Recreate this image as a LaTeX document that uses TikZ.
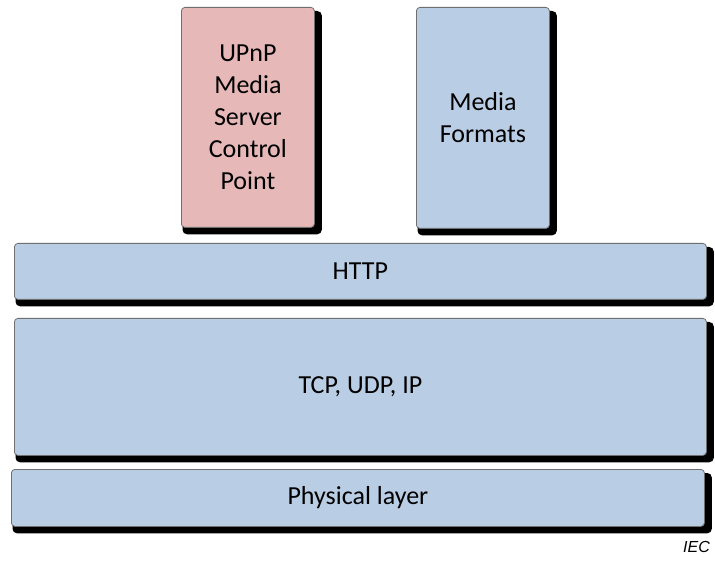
\documentclass[tikz,border=0pt]{standalone}
\usepackage{fontspec}
\setmainfont{Carlito}
\newfontfamily\iecfont{Liberation Sans}
\usetikzlibrary{backgrounds}
\definecolor{layerblue}{HTML}{B9CDE5}
\definecolor{layerpink}{HTML}{E6B9B8}
\definecolor{layerline}{HTML}{6F6F6F}
\tikzset{
  layerbox/.style={draw=layerline, line width=0.8pt, rounded corners=3.5pt, inner sep=0pt,
    anchor=north west, align=center, font=\fontsize{26}{32}\selectfont, text=black},
  boxshadow/.style={fill=black, rounded corners=4.5pt},
}
\newcommand{\shadowof}[1]{%
  \begin{pgfonlayer}{background}
    \fill[boxshadow] ([shift={(1.5pt,-4pt)}]#1.north west) rectangle ([shift={(7pt,-6.5pt)}]#1.south east);
  \end{pgfonlayer}}
\begin{document}
\begin{tikzpicture}[x=1pt,y=-1pt]
\useasboundingbox (0,0) rectangle (715,561);
\node[layerbox, fill=layerpink, minimum width=133pt, minimum height=220pt] (upnp) at (181,7)
  {UPnP\\Media\\Server\\Control\\Point};
\node[layerbox, fill=layerblue, minimum width=133pt, minimum height=221pt] (media) at (416,7)
  {Media\\Formats};
\node[layerbox, fill=layerblue, minimum width=692pt, minimum height=56pt] (http) at (14,243) {HTTP};
\node[layerbox, fill=layerblue, minimum width=692pt, minimum height=137pt] (tcp) at (14,318) {TCP, UDP, IP};
\node[layerbox, fill=layerblue, minimum width=693pt, minimum height=57pt] (phys) at (11,469) {Physical layer};
\shadowof{upnp}
\shadowof{media}
\shadowof{http}
\shadowof{tcp}
\shadowof{phys}
\node[anchor=east, font=\iecfont\itshape\fontsize{16}{18}\selectfont, inner sep=0pt] (iec) at (710,547) {IEC};
\end{tikzpicture}
\end{document}
